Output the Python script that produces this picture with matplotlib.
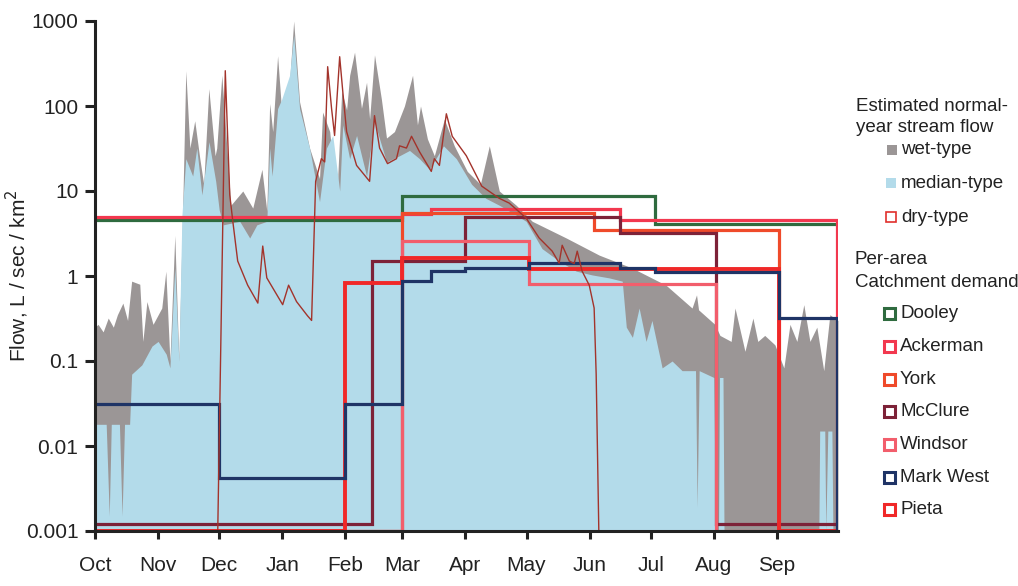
import numpy as np
import matplotlib
matplotlib.use("Agg")
import matplotlib.pyplot as plt
from matplotlib.patches import Rectangle
from matplotlib.ticker import NullLocator

plt.rcParams["font.family"] = ["Liberation Sans", "DejaVu Sans"]

# day of water year (0 = Oct 1)
month_days = [0, 31, 61, 92, 123, 151, 182, 212, 243, 273, 304, 335]
month_labels = ["Oct", "Nov", "Dec", "Jan", "Feb", "Mar", "Apr", "May", "Jun", "Jul", "Aug", "Sep"]

# wet-type stream flow (upper envelope), L/sec/km2
wet_day = [0, 1.5, 4, 6.5, 9, 11, 13.7, 16, 18, 22, 23.5, 25.5, 28.5, 32.8, 34.8, 36.8, 39.2, 41.2, 43,
           44.6, 46.6, 49, 51.5, 53.4, 55.9, 59, 59.8, 62.3, 64, 66.7, 72.6, 77.5, 82, 84.4, 85.8, 87.3,
           89.7, 92.2, 94.6, 97.6, 100.5, 105.4, 110.3, 111.8, 115.3, 118.7, 121.2, 123.6, 125.1, 127.5,
           130.9, 133.4, 134.9, 137.3, 140.7, 143.2, 147.1, 152, 156, 158.4, 159.9, 163.3, 166.7, 171.6,
           176.5, 182.9, 189.3, 193.7, 198.6, 206.9, 214.8, 231.5, 247.7, 263.9, 280.5, 293.3, 295.5,
           296.5, 304.5, 307, 312.5, 314.4, 319.3, 323.2, 325.6, 329, 334, 338.4, 341.4, 344.8, 348.2,
           351.2, 354.6, 358, 361, 365]
wet_flow = [0.25, 0.27, 0.22, 0.32, 0.25, 0.35, 0.48, 0.3, 0.87, 0.8, 0.17, 0.5, 0.27, 0.42, 1.14, 0.1,
            3.0, 0.1, 5.2, 260, 32, 67, 24, 12, 160, 26, 32, 230, 60, 6.8, 10, 6.3, 18, 5.8, 107, 50,
            390, 59, 85, 1000, 112, 32, 14, 85, 50, 7.6, 150, 90, 230, 430, 94, 190, 70, 400, 120, 42,
            50, 100, 230, 60, 100, 41, 26, 70, 34, 17, 12, 34, 10, 6.8, 4.4, 2.8, 1.76, 1.24, 0.78,
            0.42, 0.6, 0.4, 0.27, 0.2, 0.17, 0.42, 0.13, 0.32, 0.17, 0.2, 0.155, 0.083, 0.27, 0.17,
            0.46, 0.17, 0.25, 0.077, 0.35, 0.3]

# median-type stream flow
med_day = [0, 5.5, 7, 8, 12, 13.3, 14.5, 17, 18, 23, 28, 31, 35, 36.8, 39.2, 41.2, 42.7, 44.6, 48, 50,
           52.5, 56, 59.3, 61, 63, 71.1, 76, 79.5, 84.4, 85.8, 87, 89.7, 91.7, 95.6, 97.6, 100.5,
           105.4, 110.3, 113.7, 116.8, 120.2, 121.7, 125.1, 128.5, 133.4, 137.3, 143.2, 149.6, 154.5,
           159.4, 164.3, 171.2, 177.5, 185, 192, 198.6, 206.9, 211.8, 219.6, 228, 236.4, 244.2, 252.6,
           259, 261, 264, 267.3, 270.7, 273.6, 278.6, 283.5, 288.4, 295, 295.8, 296.8, 304, 304.8,
           306.3, 306.8, 308.5, 309, 355.6, 356, 358.5, 359, 360, 362, 362.5, 365]
med_flow = [0.018, 0.018, 0.0015, 0.018, 0.018, 0.0015, 0.018, 0.018, 0.07, 0.09, 0.15, 0.17, 0.12,
            0.083, 1.24, 0.1, 5.2, 24, 15, 32, 9, 38, 13, 6, 4, 4.4, 2.8, 4, 4.4, 32, 15, 93, 120, 230,
            680, 93, 32, 7.5, 32, 45, 10, 60, 24, 45, 15, 65, 22, 26, 30, 24, 18, 34, 24, 12, 8.2, 6.8,
            5.2, 4.4, 2.1, 1.5, 1.14, 1.03, 0.95, 0.87, 0.25, 0.19, 0.42, 0.17, 0.3, 0.083, 0.1, 0.077,
            0.077, 0.0019, 0.077, 0.064, 0.001, 0.001, 0.064, 0.064, 0.001, 0.001, 0.015, 0.015, 0.001,
            0.015, 0.015, 0.001, 0.001]

# dry-type stream flow
dry_day = [0, 60.3, 64, 66.2, 67.7, 70.1, 75, 80, 82.4, 84.4, 92.2, 95.1, 99, 104.4, 106.4, 108.4,
           111.2, 112.8, 114.3, 116.2, 117.7, 120.2, 121.7, 123.6, 128.5, 134.9, 137.3, 139.8, 143.7,
           148.1, 149.6, 153, 155.5, 159.4, 165.2, 166.7, 169.2, 172.6, 175.5, 182.4, 190, 198.6, 203.5,
           211.8, 218.2, 224.6, 228, 229.5, 233, 235.4, 236.9, 239.3, 242.8, 245.2, 246.2, 247.5, 365]
dry_flow = [0.001, 0.001, 260, 9, 4.4, 1.5, 0.78, 0.48, 2.25, 0.95, 0.46, 0.78, 0.5, 0.34, 0.3, 13,
            24, 22, 290, 94, 45, 380, 150, 50, 20, 13, 77, 32, 21, 24, 34, 32, 44, 29, 17, 24, 20, 81,
            44, 26, 11.4, 8.2, 7.2, 4.8, 2.8, 1.96, 1.42, 2.3, 1.5, 1.4, 1.96, 1.14, 0.78, 0.42, 0.07,
            0.001, 0.001]

# per-area catchment demand (step edges in days, levels in L/sec/km2)
demand_names = ["Dooley", "Ackerman", "York", "McClure", "Windsor", "Mark West", "Pieta"]
demand_colors = ["#2f6b3f", "#f2384f", "#ef4a2a", "#7d2238", "#f25e6c", "#1f3466", "#f02828"]
dooley_edges = [0, 151, 275, 365]
dooley_flow = [4.5, 8.7, 4.1]
ackerman_edges = [0, 151, 165, 258, 364.5, 365]
ackerman_flow = [4.9, 5.4, 6.2, 4.5, 0.001]
york_edges = [0, 151, 245, 336, 365]
york_flow = [0.001, 5.5, 3.5, 0.001]
mcclure_edges = [0, 136, 182, 258, 305, 365]
mcclure_flow = [0.0012, 1.5, 5.0, 3.2, 0.0012]
windsor_edges = [0, 151, 213, 305, 365]
windsor_flow = [0.001, 2.6, 0.8, 0.001]
markwest_edges = [0, 61, 123, 151, 165, 182, 213, 258, 275, 336, 364.5, 365]
markwest_flow = [0.031, 0.0042, 0.031, 0.87, 1.15, 1.25, 1.42, 1.24, 1.1, 0.32, 0.001]
pieta_edges = [0, 123, 151, 213, 336, 365]
pieta_flow = [0.001, 0.83, 1.65, 1.2, 0.001]

demands = [(dooley_edges, dooley_flow), (ackerman_edges, ackerman_flow), (york_edges, york_flow),
           (mcclure_edges, mcclure_flow), (windsor_edges, windsor_flow),
           (markwest_edges, markwest_flow), (pieta_edges, pieta_flow)]

wet_color = "#9b9696"
med_color = "#b3dbea"
dry_color = "#a3332b"
ink = "#222222"

W, H = 1018, 586
fig = plt.figure(figsize=(W / 100, H / 100), dpi=100)
ax = fig.add_axes([95 / W, 1 - 531 / H, 743 / W, 510 / H])

ax.fill_between(wet_day, 0.001, wet_flow, color=wet_color, lw=0)
ax.fill_between(med_day, 0.001, med_flow, color=med_color, lw=0)
ax.plot(dry_day, dry_flow, color=dry_color, lw=1.0)

draw_order = [0, 1, 2, 3, 4, 6, 5]
for i in draw_order:
    edges, flow = demands[i]
    ax.stairs(flow, edges, baseline=None, color=demand_colors[i],
              lw=2.8 if demand_names[i] == "Pieta" else 2.3)

ax.set_yscale("log")
ax.set_ylim(0.001, 1000)
ax.set_xlim(0, 365)
ax.set_yticks([0.001, 0.01, 0.1, 1, 10, 100, 1000])
ax.set_yticklabels(["0.001", "0.01", "0.1", "1", "10", "100", "1000"])
ax.yaxis.set_minor_locator(NullLocator())
ax.set_xticks(month_days)
ax.set_xticklabels(month_labels)

for s in ["top", "right"]:
    ax.spines[s].set_visible(False)
for s in ["left", "bottom"]:
    ax.spines[s].set_linewidth(2.2)
    ax.spines[s].set_color(ink)
ax.tick_params(axis="y", length=7, width=2.2, pad=5, labelsize=15, colors=ink)
ax.tick_params(axis="x", length=6, width=2.2, pad=12, labelsize=15, colors=ink)

ax.set_ylabel("Flow, L / sec / km$^2$", fontsize=15, color=ink)
ax.yaxis.set_label_coords(-0.086, 0.5)


def fx(px):
    return px / W


def fy(py):
    return 1 - py / H


def square(x0, yc, size, face, edge, lw):
    r = Rectangle((fx(x0), fy(yc + size / 2)), size / W, size / H, transform=fig.transFigure,
                  facecolor=face, edgecolor=edge, linewidth=lw)
    fig.add_artist(r)


fs = 13.5
fig.text(fx(856), fy(107), "Estimated normal-", fontsize=fs, va="center", color=ink)
fig.text(fx(856), fy(128), "year stream flow", fontsize=fs, va="center", color=ink)

flow_names = ["wet-type", "median-type", "dry-type"]
flow_rows = [150, 183, 217]
square(887, 150, 10, wet_color, "none", 0)
square(886, 183, 10, med_color, "none", 0)
square(886, 217, 10, "white", "#e0302c", 1.2)
for name, yc in zip(flow_names, flow_rows):
    fig.text(fx(901), fy(yc), name, fontsize=fs, va="center", color=ink)

fig.text(fx(855), fy(259), "Per-area", fontsize=fs, va="center", color=ink)
fig.text(fx(855), fy(282), "Catchment demand", fontsize=fs, va="center", color=ink)
for k, (name, c) in enumerate(zip(demand_names, demand_colors)):
    yc = 314 + k * 32.6
    square(884, yc, 11, "white", c, 2.2)
    fig.text(fx(900), fy(yc), name, fontsize=fs, va="center", color=ink)

fig.savefig("out.png", dpi=100)
